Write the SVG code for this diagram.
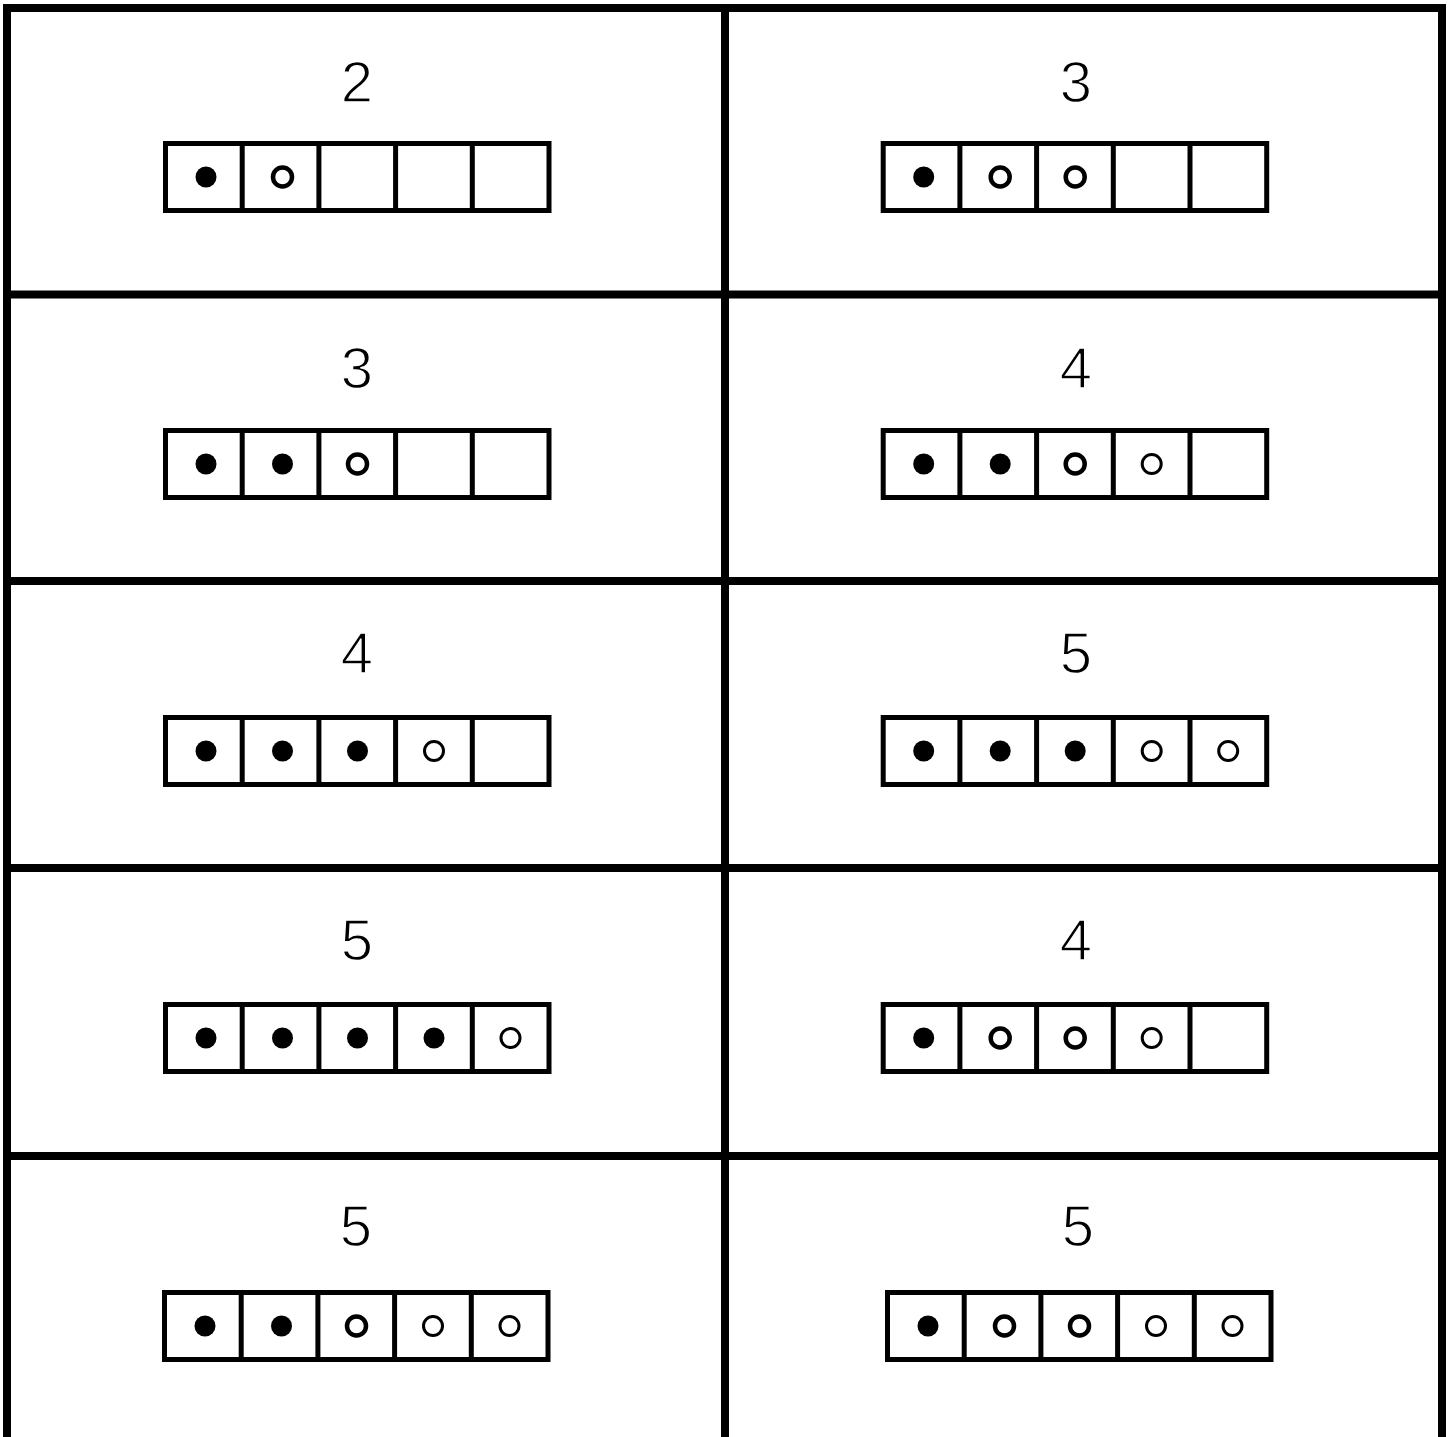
<svg xmlns="http://www.w3.org/2000/svg" xmlns:xlink="http://www.w3.org/1999/xlink" width="1448" height="1437" viewBox="0 0 1448 1437">
<style>
.grid{stroke:#000;stroke-width:8;fill:none}
.fr{stroke:#000;stroke-width:5;fill:none}
.num{font-family:"Liberation Sans",Arial,sans-serif;font-size:58px;fill:#000;text-anchor:middle;stroke:#fff;stroke-width:1.4px}
.f{fill:#000}
.b{fill:none;stroke:#000;stroke-width:4.5}
.t{fill:none;stroke:#000;stroke-width:3}
</style>
<defs>
<g id="frame">
<rect x="0" y="0" width="383.5" height="67" class="fr"/>
<path d="M76.7 0V67M153.4 0V67M230.1 0V67M306.8 0V67" class="fr"/>
</g>
</defs>
<rect width="1448" height="1437" fill="#fff"/>
<g id="connectors">
<path class="grid" d="M3 8H1446M3 294.5H1446M3 581H1446M3 868H1446M3 1156H1446"/>
<path class="grid" d="M7 4V1437M725 4V1437M1442 4V1437"/>
</g>
<g id="card-l1">
<text class="num" x="357" y="102">2</text>
<g transform="translate(165.5,143.5)"><use xlink:href="#frame"/>
<circle class="f" cx="40.5" cy="33.5" r="10.5"/><circle class="b" cx="117" cy="33.5" r="9.5"/></g>
</g>
<g id="card-r1">
<text class="num" x="1076" y="102">3</text>
<g transform="translate(883.2,143.5)"><use xlink:href="#frame"/>
<circle class="f" cx="40.5" cy="33.5" r="10.5"/><circle class="b" cx="117" cy="33.5" r="9.5"/><circle class="b" cx="192" cy="33.5" r="9.5"/></g>
</g>
<g id="card-l2">
<text class="num" x="357" y="388">3</text>
<g transform="translate(165.5,430.5)"><use xlink:href="#frame"/>
<circle class="f" cx="40.5" cy="33.5" r="10.5"/><circle class="f" cx="117" cy="33.5" r="10.5"/><circle class="b" cx="192" cy="33.5" r="9.5"/></g>
</g>
<g id="card-r2">
<text class="num" x="1076" y="388">4</text>
<g transform="translate(883.2,430.5)"><use xlink:href="#frame"/>
<circle class="f" cx="40.5" cy="33.5" r="10.5"/><circle class="f" cx="117" cy="33.5" r="10.5"/><circle class="b" cx="192" cy="33.5" r="9.5"/><circle class="t" cx="268.5" cy="33.5" r="9.5"/></g>
</g>
<g id="card-l3">
<text class="num" x="357" y="673">4</text>
<g transform="translate(165.5,717.5)"><use xlink:href="#frame"/>
<circle class="f" cx="40.5" cy="33.5" r="10.5"/><circle class="f" cx="117" cy="33.5" r="10.5"/><circle class="f" cx="192" cy="33.5" r="10.5"/><circle class="t" cx="268.5" cy="33.5" r="9.5"/></g>
</g>
<g id="card-r3">
<text class="num" x="1076" y="673">5</text>
<g transform="translate(883.2,717.5)"><use xlink:href="#frame"/>
<circle class="f" cx="40.5" cy="33.5" r="10.5"/><circle class="f" cx="117" cy="33.5" r="10.5"/><circle class="f" cx="192" cy="33.5" r="10.5"/><circle class="t" cx="268.5" cy="33.5" r="9.5"/><circle class="t" cx="345" cy="33.5" r="9.5"/></g>
</g>
<g id="card-l4">
<text class="num" x="357" y="960">5</text>
<g transform="translate(165.5,1004.5)"><use xlink:href="#frame"/>
<circle class="f" cx="40.5" cy="33.5" r="10.5"/><circle class="f" cx="117" cy="33.5" r="10.5"/><circle class="f" cx="192" cy="33.5" r="10.5"/><circle class="f" cx="268.5" cy="33.5" r="10.5"/><circle class="t" cx="345" cy="33.5" r="9.5"/></g>
</g>
<g id="card-r4">
<text class="num" x="1076" y="960">4</text>
<g transform="translate(883.2,1004.5)"><use xlink:href="#frame"/>
<circle class="f" cx="40.5" cy="33.5" r="10.5"/><circle class="b" cx="117" cy="33.5" r="9.5"/><circle class="b" cx="192" cy="33.5" r="9.5"/><circle class="t" cx="268.5" cy="33.5" r="9.5"/></g>
</g>
<g id="card-l5">
<text class="num" x="356" y="1246">5</text>
<g transform="translate(164.5,1292.5)"><use xlink:href="#frame"/>
<circle class="f" cx="40.5" cy="33.5" r="10.5"/><circle class="f" cx="117" cy="33.5" r="10.5"/><circle class="b" cx="192" cy="33.5" r="9.5"/><circle class="t" cx="268.5" cy="33.5" r="9.5"/><circle class="t" cx="345" cy="33.5" r="9.5"/></g>
</g>
<g id="card-r5">
<text class="num" x="1078" y="1246">5</text>
<g transform="translate(887.5,1292.5)"><use xlink:href="#frame"/>
<circle class="f" cx="40.5" cy="33.5" r="10.5"/><circle class="b" cx="117" cy="33.5" r="9.5"/><circle class="b" cx="192" cy="33.5" r="9.5"/><circle class="t" cx="268.5" cy="33.5" r="9.5"/><circle class="t" cx="345" cy="33.5" r="9.5"/></g>
</g>
</svg>
